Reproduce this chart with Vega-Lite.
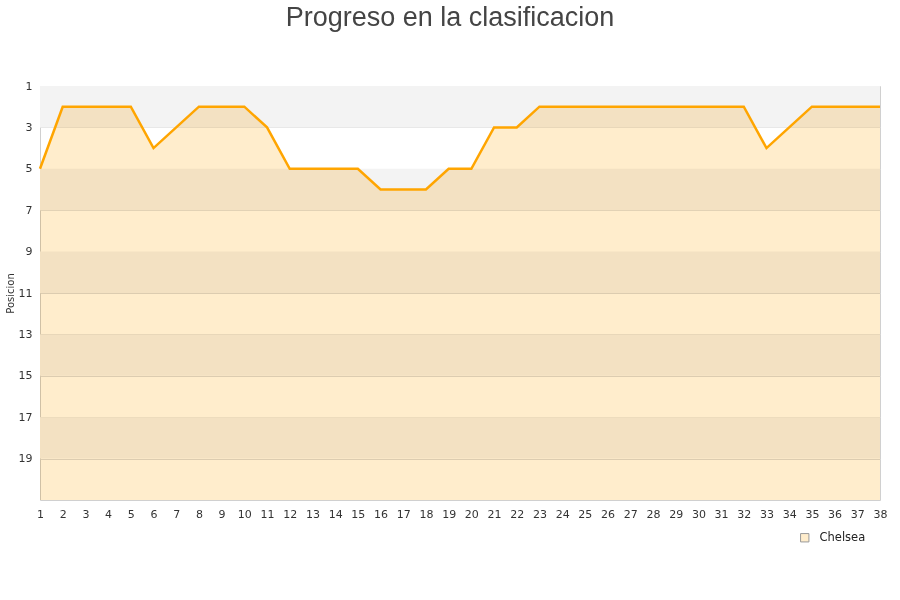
{
  "$schema": "https://vega.github.io/schema/vega-lite/v6.json",
  "width": 840,
  "height": 414,
  "autosize": {"type": "none"},
  "padding": {"left": 40, "top": 86, "right": 20, "bottom": 100},
  "background": "white",
  "title": {
    "text": "Progreso en la clasificacion",
    "font": "Liberation Sans",
    "fontSize": 27,
    "fontWeight": "normal",
    "color": "#444444",
    "anchor": "middle",
    "dx": -10,
    "offset": 48
  },
  "config": {
    "view": {"stroke": "#d0d0d0", "strokeWidth": 1},
    "axis": {
      "labelFont": "DejaVu Sans",
      "labelFontSize": 11,
      "labelColor": "#333333",
      "titleFont": "DejaVu Sans",
      "titleFontSize": 10,
      "titleFontWeight": "normal",
      "titleColor": "#333333",
      "ticks": false,
      "domain": false
    },
    "axisX": {"labelOverlap": false, "labelFlush": false}
  },
  "datasets": {
    "bands": [
      {"start": 1, "end": 3},
      {"start": 5, "end": 7},
      {"start": 9, "end": 11},
      {"start": 13, "end": 15},
      {"start": 17, "end": 19}
    ],
    "pos": [
      {"jornada": 1, "posicion": 5, "equipo": "Chelsea"},
      {"jornada": 2, "posicion": 2, "equipo": "Chelsea"},
      {"jornada": 3, "posicion": 2, "equipo": "Chelsea"},
      {"jornada": 4, "posicion": 2, "equipo": "Chelsea"},
      {"jornada": 5, "posicion": 2, "equipo": "Chelsea"},
      {"jornada": 6, "posicion": 4, "equipo": "Chelsea"},
      {"jornada": 7, "posicion": 3, "equipo": "Chelsea"},
      {"jornada": 8, "posicion": 2, "equipo": "Chelsea"},
      {"jornada": 9, "posicion": 2, "equipo": "Chelsea"},
      {"jornada": 10, "posicion": 2, "equipo": "Chelsea"},
      {"jornada": 11, "posicion": 3, "equipo": "Chelsea"},
      {"jornada": 12, "posicion": 5, "equipo": "Chelsea"},
      {"jornada": 13, "posicion": 5, "equipo": "Chelsea"},
      {"jornada": 14, "posicion": 5, "equipo": "Chelsea"},
      {"jornada": 15, "posicion": 5, "equipo": "Chelsea"},
      {"jornada": 16, "posicion": 6, "equipo": "Chelsea"},
      {"jornada": 17, "posicion": 6, "equipo": "Chelsea"},
      {"jornada": 18, "posicion": 6, "equipo": "Chelsea"},
      {"jornada": 19, "posicion": 5, "equipo": "Chelsea"},
      {"jornada": 20, "posicion": 5, "equipo": "Chelsea"},
      {"jornada": 21, "posicion": 3, "equipo": "Chelsea"},
      {"jornada": 22, "posicion": 3, "equipo": "Chelsea"},
      {"jornada": 23, "posicion": 2, "equipo": "Chelsea"},
      {"jornada": 24, "posicion": 2, "equipo": "Chelsea"},
      {"jornada": 25, "posicion": 2, "equipo": "Chelsea"},
      {"jornada": 26, "posicion": 2, "equipo": "Chelsea"},
      {"jornada": 27, "posicion": 2, "equipo": "Chelsea"},
      {"jornada": 28, "posicion": 2, "equipo": "Chelsea"},
      {"jornada": 29, "posicion": 2, "equipo": "Chelsea"},
      {"jornada": 30, "posicion": 2, "equipo": "Chelsea"},
      {"jornada": 31, "posicion": 2, "equipo": "Chelsea"},
      {"jornada": 32, "posicion": 2, "equipo": "Chelsea"},
      {"jornada": 33, "posicion": 4, "equipo": "Chelsea"},
      {"jornada": 34, "posicion": 3, "equipo": "Chelsea"},
      {"jornada": 35, "posicion": 2, "equipo": "Chelsea"},
      {"jornada": 36, "posicion": 2, "equipo": "Chelsea"},
      {"jornada": 37, "posicion": 2, "equipo": "Chelsea"},
      {"jornada": 38, "posicion": 2, "equipo": "Chelsea"}
    ]
  },
  "layer": [
    {
      "data": {"name": "bands"},
      "mark": {"type": "rect", "color": "#f3f3f3"},
      "encoding": {
        "y": {"field": "start", "type": "quantitative", "scale": {"domain": [1, 21], "reverse": true, "nice": false, "zero": false}},
        "y2": {"field": "end"}
      }
    },
    {
      "data": {"name": "pos"},
      "mark": {"type": "area", "fillOpacity": 1, "blend": "multiply", "interpolate": "linear"},
      "encoding": {
        "x": {
          "field": "jornada", "type": "quantitative",
          "scale": {"domain": [1, 38], "nice": false, "zero": false},
          "axis": {
            "title": null,
            "values": [1,2,3,4,5,6,7,8,9,10,11,12,13,14,15,16,17,18,19,20,21,22,23,24,25,26,27,28,29,30,31,32,33,34,35,36,37,38],
            "labelPadding": 8,
            "labelFlush": false,
            "labelOverlap": false,
            "grid": false
          }
        },
        "y": {
          "field": "posicion", "type": "quantitative",
          "axis": {
            "title": "Posicion",
            "values": [1, 3, 5, 7, 9, 11, 13, 15, 17, 19],
            "labelPadding": 8,
            "titlePadding": 3,
            "grid": true,
            "gridColor": "#dcdcdc",
            "labelFlush": false
          }
        },
        "y2": {"datum": 21},
        "fill": {
          "field": "equipo", "type": "nominal",
          "scale": {"range": ["#ffedcc"]},
          "legend": {
            "title": null,
            "orient": "none",
            "legendX": 759,
            "legendY": 446,
            "symbolType": "square",
            "symbolSize": 70,
            "symbolStrokeColor": "#999999",
            "symbolStrokeWidth": 1,
            "labelOffset": 9,
            "labelFont": "DejaVu Sans",
            "labelFontSize": 11.5,
            "labelColor": "#222222"
          }
        }
      }
    },
    {
      "data": {"name": "pos"},
      "mark": {"type": "line", "color": "#ffa500", "strokeWidth": 2.5},
      "encoding": {
        "x": {
          "field": "jornada", "type": "quantitative",
          "axis": {
            "title": null,
            "values": [1,2,3,4,5,6,7,8,9,10,11,12,13,14,15,16,17,18,19,20,21,22,23,24,25,26,27,28,29,30,31,32,33,34,35,36,37,38],
            "labelPadding": 8,
            "labelFlush": false,
            "labelOverlap": false,
            "grid": false
          }
        },
        "y": {
          "field": "posicion", "type": "quantitative",
          "axis": {
            "title": "Posicion",
            "values": [1, 3, 5, 7, 9, 11, 13, 15, 17, 19],
            "labelPadding": 8,
            "titlePadding": 3,
            "grid": true,
            "gridColor": "#dcdcdc",
            "labelFlush": false
          }
        }
      }
    }
  ]
}
